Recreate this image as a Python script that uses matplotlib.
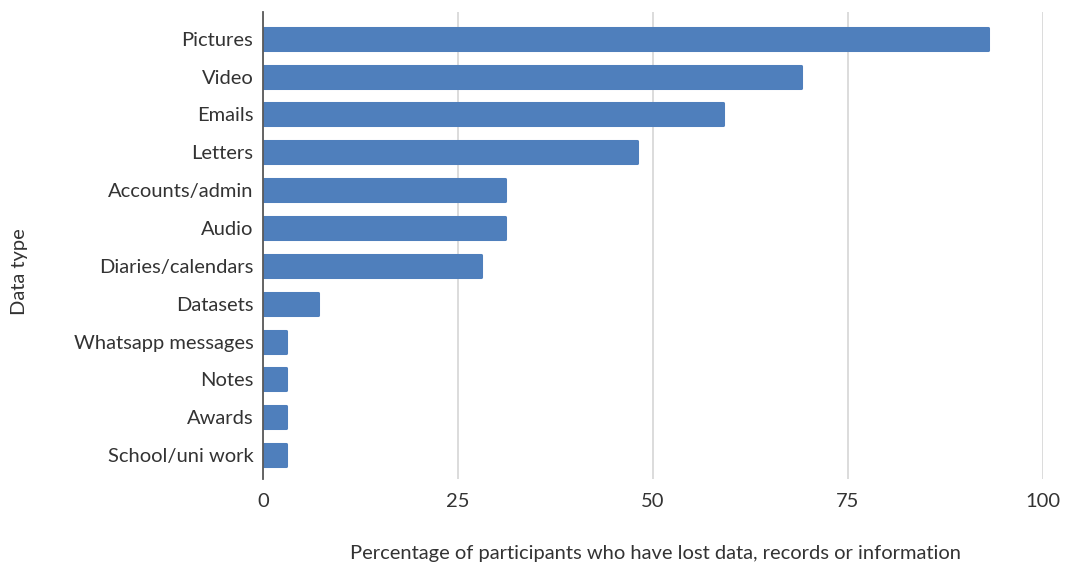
import numpy as np
import matplotlib.pyplot as plt

# categories from top to bottom as in the chart
categories = ['Pictures', 'Video', 'Emails', 'Letters', 'Accounts/admin', 'Audio',
              'Diaries/calendars', 'Datasets', 'Whatsapp messages', 'Notes',
              'Awards', 'School/uni work']
percent = [93, 69, 59, 48, 31, 31, 28, 7, 3, 3, 3, 3]
x_ticks = [0, 25, 50, 75, 100]

plt.rcParams['font.family'] = ['Lato', 'DejaVu Sans']
txt = '#333333'
fs = 14.5

fig = plt.figure(figsize=(10.67, 5.66), dpi=100)
ax = fig.add_axes([0.2465, 0.1537, 0.731, 0.8253])

ypos = np.arange(len(categories))[::-1]
ax.barh(ypos, percent, height=0.58, color='#4f7fbc', edgecolor='#4f7fbc',
        linewidth=2.2, joinstyle='round', zorder=3)

ax.set_xlim(0, 100)
ax.set_ylim(-0.63, 11.71)
ax.set_xticks(x_ticks)
ax.set_yticks(ypos)
ax.set_yticklabels(categories)
ax.tick_params(axis='both', length=0, labelsize=fs, colors=txt)
ax.tick_params(axis='y', pad=7)
ax.tick_params(axis='x', pad=10)

ax.grid(axis='x', color='#d9d9d9', linewidth=1.3, zorder=0)
for s in ['top', 'right', 'bottom']:
    ax.spines[s].set_visible(False)
ax.spines['left'].set_color('#595959')
ax.spines['left'].set_linewidth(1.3)
ax.spines['left'].set_zorder(4)

fig.text(0.614, 0.022, 'Percentage of participants who have lost data, records or information',
         fontsize=fs, color=txt, ha='center', va='center')
fig.text(0.018, 0.52, 'Data type', rotation=90, fontsize=fs, color=txt,
         ha='center', va='center')

fig.savefig('out.png', dpi=100)
